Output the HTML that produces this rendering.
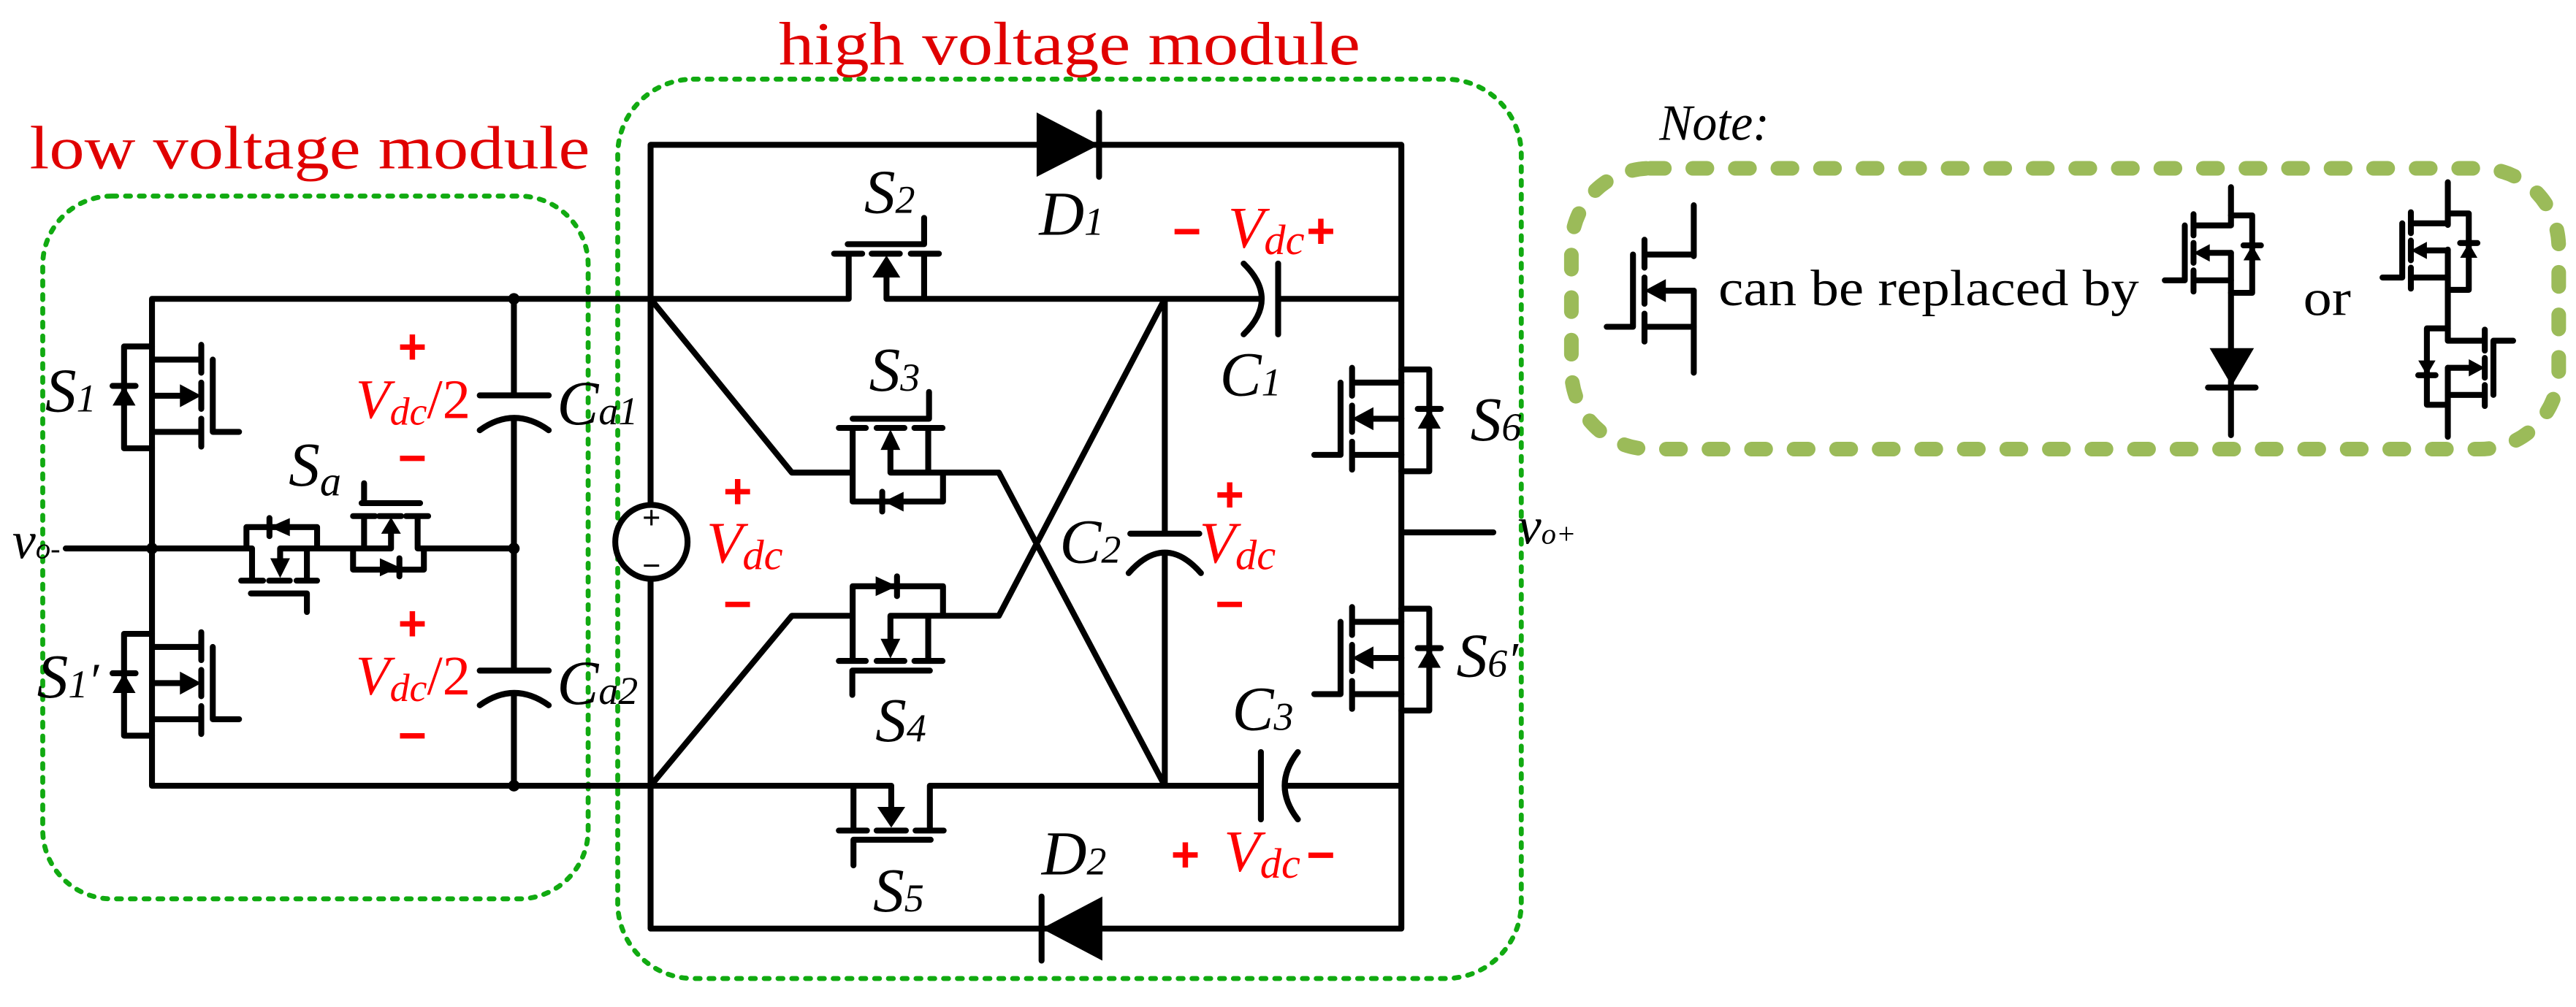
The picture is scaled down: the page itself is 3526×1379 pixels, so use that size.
<!DOCTYPE html>
<html><head><meta charset="utf-8"><style>
html,body{margin:0;padding:0;background:#fff;}
svg{display:block;}
text{font-family:"Liberation Serif",serif;}
.w{fill:none;stroke:#000;stroke-width:3.6;stroke-linecap:round;stroke-linejoin:round;}
.r{fill:#f00;}
.sg{font-family:"Liberation Sans",sans-serif;font-weight:bold;font-size:30px;fill:#f00;text-anchor:middle;}
.lb{font-style:italic;font-size:38px;}
</style></head><body>
<svg width="3526" height="1379" viewBox="0 0 1568 613.25" xmlns="http://www.w3.org/2000/svg">
<defs>
<g id="mv">
<path class="w" d="M0,-22H30 M0,22H30 M0,0H18 M30,-31V-14 M30,-8V8 M30,14V31 M37,-22V22H53 M0,-30H-17V32H0 M-24,-6H-10" style="stroke-width:inherit"/>
<polygon points="30,0 17,-7 17,7" fill="#000"/>
<polygon points="-17,-6 -24,6 -10,6" fill="#000"/>
</g>
<g id="mn">
<path class="w" d="M0,-22H30 M0,22H30 M0,0H18 M30,-31V-14 M30,-8V8 M30,14V31 M37,-22V22H53" style="stroke-width:inherit"/>
<polygon points="30,0 17,-7 17,7" fill="#000"/>
</g>
</defs>

<!-- module boxes -->
<rect x="26" y="119.4" width="332" height="428" rx="42" fill="none" stroke="#11aa11" stroke-width="3" stroke-dasharray="3 5.4" stroke-linecap="round"/>
<rect x="376" y="48.2" width="550" height="547.7" rx="46" fill="none" stroke="#11aa11" stroke-width="3" stroke-dasharray="3 5.4" stroke-linecap="round"/>
<rect x="956.5" y="102.5" width="601" height="171" rx="48" fill="none" stroke="#9bbb59" stroke-width="8.9" stroke-dasharray="8.6 17.3" stroke-linecap="round"/>

<text x="18" y="102.6" font-size="37" fill="#e00000" textLength="341" lengthAdjust="spacingAndGlyphs">low voltage module</text>
<text x="474" y="39.2" font-size="37" fill="#e00000" textLength="354" lengthAdjust="spacingAndGlyphs">high voltage module</text>

<!-- LOW MODULE wiring -->
<path class="w" d="M92.5,182H396 M92.5,478.5H396 M92.5,182V478.5
M312.8,182V240.8 M312.8,254.5V408.4 M312.8,422V478.5
M292,240.8H334 M292,262Q313,247 334,262 M292,408.4H334 M292,429.5Q313,414.5 334,429.5
M40,334H153.4V353.6 M150,334V321H193V334 M170.5,334H238 M186.8,334V353.6
M146.8,353.6H160.1 M163.8,353.6H176.4 M180.5,353.6H193 M152.7,361.4H186.8V372.7 M170.5,334V345
M164,315.5V326.5
M221.6,334V314.3 M214.9,314.3H228.3 M230.8,314.3H244.2 M247.2,314.3H260.6 M220.1,306.4H255.7 M221.6,306.4V294.3
M238,334V322 M254.2,314.3V334H312.8 M214.9,334V346.9H258V334 M243.1,340V351"/>
<polygon points="176.4,315.5 176.4,326.5 164,321" fill="#000"/>
<polygon points="164.5,340 176.5,340 170.5,352" fill="#000"/>
<polygon points="238,315 232,325 244,325" fill="#000"/>
<polygon points="231.2,340 231.2,351 243.1,345.4" fill="#000"/>
<circle cx="312.8" cy="182" r="3.5"/><circle cx="312.8" cy="334" r="3.5"/><circle cx="312.8" cy="478.5" r="3.5"/><circle cx="92.5" cy="334" r="3.5"/>
<use href="#mv" transform="translate(92.5,241)" style="stroke-width:3.6"/>
<use href="#mv" transform="translate(92.5,416)" style="stroke-width:3.6"/>

<!-- HIGH MODULE wiring -->
<path class="w" d="M396,88.2H853 M396,565.5H853 M396,88.2V565.5 M853,88.2V565.5
M396,182H516.6V154.5 M539.6,182H709 M539.6,182V168 M562.5,154.5V182
M507.7,154.5H524.8 M530.6,154.5H547.7 M554.4,154.5H571.5 M516,148.7H562.5V132.7
M396,182L482,287.8H519V260.6 M519,287.8V305.4H574V287.8 M565,260.6V287.8 M542,287.8H608L709,478.5 M542,287.8V273
M510.6,260.6H527 M533.6,260.6H550.5 M556.6,260.6H573.7 M519,255H565.5V238.7 M537,299.5V311.5
M396,478.5L482,375H519V402.5 M519,375V357H574V375 M565,402.5V375 M542,375H608L709,182 M542,375V390
M510.6,402.5H527 M533.6,402.5H550.5 M556.6,402.5H573.7 M566,408.4H518.8V423.2 M546,351V363
M396,478.5H542.5V492 M519.5,478.5V505.8 M566,505.8V478.5H709
M510.6,505.8H527.7 M533.6,505.8H551.4 M557.3,505.8H574.4 M566.5,511.4H519.5V527
M709,182V325 M709,337V478.5 M688,325H730 M687,349Q709,324 731,349
M709,182H766 M757,160.5Q779,182 757,203.6 M778,160.5V203.6 M778,182H853
M709,478.5H767.5 M767.5,458V499 M790,458Q774,478.5 790,499 M782,478.5H853
M853,324.2H909 M669,68.5V107.7 M634,546V585"/>
<polygon points="539.6,155.6 531,169 548,169" fill="#000"/>
<polygon points="542,261.5 536,274 548,274" fill="#000"/>
<polygon points="550,299.5 550,311.5 538,305.4" fill="#000"/>
<polygon points="542,401 536,389 548,389" fill="#000"/>
<polygon points="533,351 533,363 546,357" fill="#000"/>
<polygon points="534,491.4 551,491.4 542.5,504" fill="#000"/>
<polygon points="631,68.5 631,107.7 669,88.2" fill="#000"/>
<polygon points="671,546 671,585 634,565.5" fill="#000"/>
<ellipse cx="396.5" cy="330" rx="22" ry="22.5" fill="#fff" stroke="#000" stroke-width="3.6"/>
<text x="396.5" y="322" font-family="Liberation Sans" font-weight="bold" font-size="20" text-anchor="middle">+</text>
<text x="396.5" y="351" font-family="Liberation Sans" font-weight="bold" font-size="20" text-anchor="middle">−</text>
<use href="#mv" transform="translate(853,255) scale(-1,1)" style="stroke-width:3.6"/>
<use href="#mv" transform="translate(853,400.7) scale(-1,1)" style="stroke-width:3.6"/>

<!-- black labels -->
<text class="lb" x="27.5" y="250.6">S<tspan font-size="24">1</tspan></text>
<text class="lb" x="22.5" y="424.8">S<tspan font-size="24">1</tspan><tspan font-size="30">′</tspan></text>
<text class="lb" x="175.7" y="295.8">S<tspan font-size="26" dy="6">a</tspan></text>
<text class="lb" x="526" y="129.7">S<tspan font-size="24">2</tspan></text>
<text class="lb" x="529" y="238">S<tspan font-size="24">3</tspan></text>
<text class="lb" x="532.8" y="451.4">S<tspan font-size="24">4</tspan></text>
<text class="lb" x="531.4" y="555">S<tspan font-size="24">5</tspan></text>
<text class="lb" x="895" y="268.2">S<tspan font-size="24">6</tspan></text>
<text class="lb" x="886.5" y="412">S<tspan font-size="24">6</tspan><tspan font-size="30">′</tspan></text>
<text class="lb" x="632.5" y="143">D<tspan font-size="24">1</tspan></text>
<text class="lb" x="634" y="532.5">D<tspan font-size="24">2</tspan></text>
<text class="lb" x="742.5" y="240.8">C<tspan font-size="24">1</tspan></text>
<text class="lb" x="645" y="342.6">C<tspan font-size="24">2</tspan></text>
<text class="lb" x="750" y="444.4">C<tspan font-size="24">3</tspan></text>
<text class="lb" x="339" y="258.4">C<tspan font-size="24">a1</tspan></text>
<text class="lb" x="339" y="428.7">C<tspan font-size="24">a2</tspan></text>
<text x="7.5" y="340" font-style="italic" font-size="32">v<tspan font-size="18">o-</tspan></text>
<text x="924" y="331" font-style="italic" font-size="32">v<tspan font-size="18">o+</tspan></text>

<!-- red labels -->
<text class="sg" x="251" y="221.4">+</text>
<text class="r" x="216.5" y="254.5" font-size="34"><tspan font-style="italic">V</tspan><tspan font-style="italic" font-size="24" dy="4">dc</tspan><tspan dy="-4">/2</tspan></text>
<text class="sg" x="251" y="289">−</text>
<text class="sg" x="251" y="390">+</text>
<text class="r" x="216.5" y="423" font-size="34"><tspan font-style="italic">V</tspan><tspan font-style="italic" font-size="24" dy="4">dc</tspan><tspan dy="-4">/2</tspan></text>
<text class="sg" x="251" y="458">−</text>

<text class="sg" x="449" y="309.5">+</text>
<text class="r" x="430" y="342.6" font-size="36" font-style="italic">V<tspan font-size="26" dy="4">dc</tspan></text>
<text class="sg" x="449" y="378">−</text>

<text class="sg" x="748.5" y="311.5">+</text>
<text class="r" x="730" y="342.6" font-size="36" font-style="italic">V<tspan font-size="26" dy="4">dc</tspan></text>
<text class="sg" x="748.5" y="378">−</text>

<text class="sg" x="722.5" y="151">−</text>
<text class="r" x="747.5" y="150.7" font-size="36" font-style="italic">V<tspan font-size="26" dy="4">dc</tspan></text>
<text class="sg" x="804" y="151" font-weight="normal">+</text>

<text class="sg" x="721.5" y="530.7" font-weight="normal">+</text>
<text class="r" x="745" y="530.5" font-size="36" font-style="italic">V<tspan font-size="26" dy="4">dc</tspan></text>
<text class="sg" x="804" y="530.7">−</text>

<!-- NOTE -->
<text x="1010" y="85.2" font-size="31" font-style="italic" textLength="67" lengthAdjust="spacingAndGlyphs">Note:</text>
<path class="w" d="M1031,125V156 M1031,177V227"/>
<use href="#mn" transform="translate(1031,177) scale(-1,1)" style="stroke-width:3.6"/>
<text x="1046" y="186" font-size="31" textLength="256" lengthAdjust="spacingAndGlyphs">can be replaced by</text>
<text x="1402" y="192" font-size="31" textLength="29" lengthAdjust="spacingAndGlyphs">or</text>

<path class="w" d="M1358,114V137 M1358,154V265 M1344,236H1373"/>
<use href="#mv" transform="translate(1358,154) scale(-0.76,0.76)" style="stroke-width:4.7"/>
<polygon points="1345,212 1372,212 1358.5,235" fill="#000"/>

<path class="w" d="M1490,111V137 M1490,152V207 M1490,224V266"/>
<use href="#mv" transform="translate(1490,152.5) scale(-0.75,0.75)" style="stroke-width:4.8"/>
<use href="#mv" transform="translate(1490,224) scale(0.75,-0.75)" style="stroke-width:4.8"/>
</svg>
</body></html>
